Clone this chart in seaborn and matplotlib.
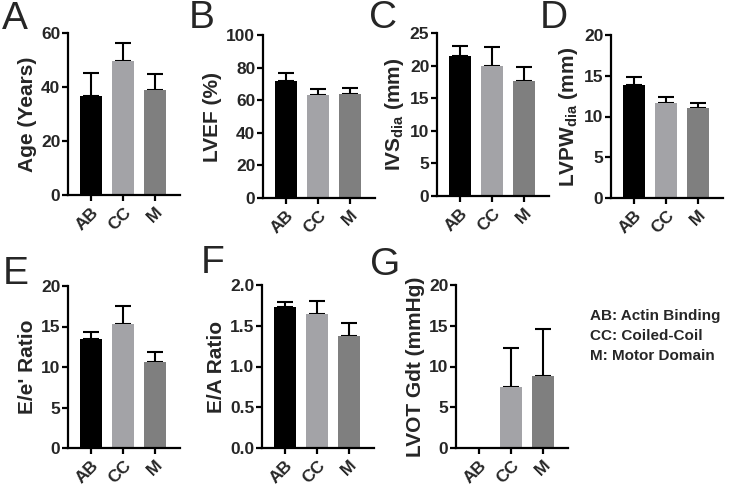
import numpy as np
import pandas as pd
import matplotlib.pyplot as plt
import seaborn as sns

groups = ['AB', 'CC', 'M']
colors = ['#000000', '#a3a3a7', '#7f7f7f']

age_mean = [36.5, 49.5, 39.0]
age_err = [8.7, 6.8, 5.8]
lvef_mean = [71.8, 62.9, 64.1]
lvef_err = [4.7, 3.8, 3.5]
ivs_mean = [21.4, 19.9, 17.7]
ivs_err = [1.65, 2.9, 2.1]
lvpw_mean = [13.9, 11.7, 11.1]
lvpw_err = [1.0, 0.7, 0.5]
ee_mean = [13.4, 15.25, 10.65]
ee_err = [0.9, 2.25, 1.15]
ea_mean = [1.735, 1.65, 1.38]
ea_err = [0.055, 0.15, 0.15]
lvot_mean = [0.0, 7.5, 8.86]
lvot_err = [0.0, 4.8, 5.7]

sns.set_style('ticks')
plt.rcParams['font.family'] = ['Liberation Sans', 'DejaVu Sans']
plt.rcParams['mathtext.fontset'] = 'custom'
plt.rcParams['mathtext.rm'] = 'Liberation Sans'
plt.rcParams['mathtext.default'] = 'regular'

W, H = 733, 488
fig = plt.figure(figsize=(W / 100, H / 100), dpi=100)

# (letter, ylabel, means, errs, ymax, ystep, fmt, left px, top px, bottom px, letter x, letter baseline)
panels = [
    ('A', 'Age (Years)', age_mean, age_err, 60, 20, '{:.0f}', 68, 33, 195, 2, 29),
    ('B', 'LVEF (%)', lvef_mean, lvef_err, 100, 20, '{:.0f}', 263, 35, 198, 189, 28),
    ('C', r'IVS$_{dia}$ (mm)', ivs_mean, ivs_err, 25, 5, '{:.0f}', 437, 33, 196, 369, 28),
    ('D', r'LVPW$_{dia}$ (mm)', lvpw_mean, lvpw_err, 20, 5, '{:.0f}', 611, 35, 198, 540, 28),
    ('E', "E/e' Ratio", ee_mean, ee_err, 20, 5, '{:.0f}', 68, 286, 448, 3, 284),
    ('F', 'E/A Ratio', ea_mean, ea_err, 2.0, 0.5, '{:.1f}', 262, 285, 448, 201, 273),
    ('G', 'LVOT Gdt (mmHg)', lvot_mean, lvot_err, 20, 5, '{:.0f}', 456, 285, 448, 370, 275),
]

for letter, ylab, means, errs, ymax, ystep, fmt, lpx, tpx, bpx, lx, ly in panels:
    wpx = 112
    ax = fig.add_axes([lpx / W, 1 - bpx / H, wpx / W, (bpx - tpx) / H])
    df = pd.DataFrame({'group': groups, 'value': means})
    sns.barplot(data=df, x='group', y='value', hue='group', palette=colors,
                order=groups, width=0.66, errorbar=None, legend=False,
                saturation=1, ax=ax, edgecolor='none', zorder=2)
    x = np.arange(len(groups))
    e = np.array(errs)
    m = np.array(means)
    keep = e > 0
    ax.errorbar(x[keep], m[keep], yerr=[np.zeros(keep.sum()), e[keep]],
                fmt='none', ecolor='black', elinewidth=1.5, capsize=5.5, capthick=1.5,
                zorder=1)
    ax.set_xlim(-0.72, 2.78)
    ax.set_ylim(0, ymax)
    ticks = np.arange(0, ymax + ystep / 2, ystep)
    ax.set_yticks(ticks)
    ax.set_yticklabels([fmt.format(t) for t in ticks], fontsize=12.5, fontweight='bold')
    ax.set_xticks(x)
    ax.set_xticklabels(groups, fontsize=12.5, fontweight='bold', rotation=45,
                       ha='right', rotation_mode='anchor')
    ax.set_xlabel('')
    ax.set_ylabel(ylab, fontsize=15, fontweight='bold', labelpad=3)
    sns.despine(ax=ax)
    for s in ['left', 'bottom']:
        ax.spines[s].set_linewidth(1.6)
        ax.spines[s].set_color('black')
    ax.tick_params(axis='both', width=1.6, length=4, color='black', pad=1.5)
    ax.tick_params(axis='x', pad=3)
    fig.text(lx / W, 1 - ly / H, letter, fontsize=28, va='baseline', ha='left')

legend_lines = ['AB: Actin Binding', 'CC: Coiled-Coil', 'M: Motor Domain']
for i, t in enumerate(legend_lines):
    fig.text(590 / W, 1 - (320 + i * 20) / H, t, fontsize=11, fontweight='bold',
             va='baseline', ha='left')

fig.savefig('out.png', dpi=100)
